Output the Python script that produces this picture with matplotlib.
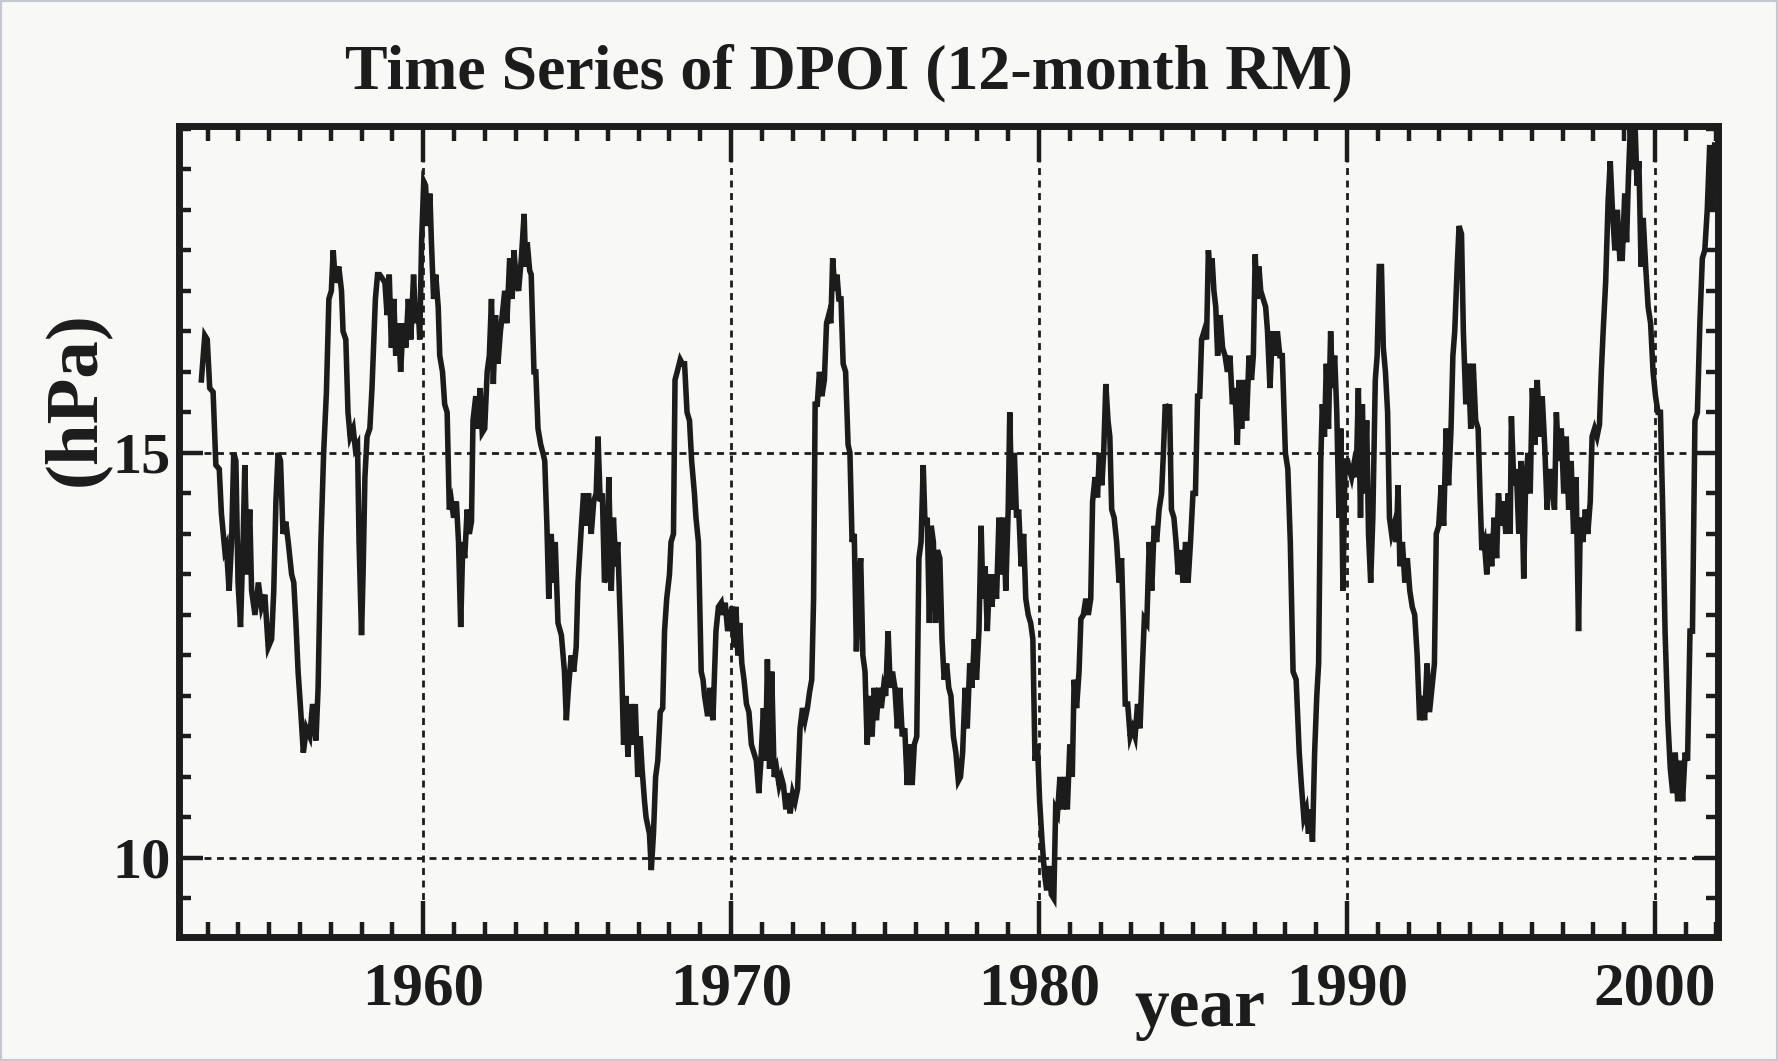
import matplotlib
matplotlib.use("Agg")
import matplotlib.pyplot as plt
from matplotlib.ticker import MultipleLocator, FixedLocator
from matplotlib.patches import Rectangle

# ---------------- data ----------------
yr_1950s = [1952.80, 1952.91, 1952.99, 1953.07, 1953.18, 1953.27, 1953.38, 1953.45, 1953.56, 1953.61,
            1953.70, 1953.78, 1953.85, 1953.92, 1953.99, 1954.07, 1954.16, 1954.21, 1954.29, 1954.37,
            1954.43, 1954.54, 1954.65, 1954.75, 1954.86, 1954.97, 1955.08, 1955.15, 1955.22, 1955.29,
            1955.37, 1955.45, 1955.54, 1955.62, 1955.73, 1955.80, 1955.87, 1955.94, 1956.02, 1956.11,
            1956.21, 1956.32, 1956.41, 1956.52, 1956.59, 1956.68, 1956.77, 1956.86, 1956.94, 1957.02,
            1957.08, 1957.15, 1957.26, 1957.35, 1957.40, 1957.49, 1957.56, 1957.63, 1957.73, 1957.80,
            1957.87, 1957.92, 1958.00, 1958.05, 1958.11, 1958.18, 1958.27, 1958.34, 1958.45, 1958.52,
            1958.59, 1958.68, 1958.76, 1958.83, 1958.90, 1958.97, 1959.05, 1959.11, 1959.20, 1959.27,
            1959.35, 1959.44, 1959.52, 1959.60, 1959.69, 1959.76, 1959.84, 1959.89, 1959.95]
val_1950s = [15.9, 16.45, 16.4, 15.8, 15.75, 14.85, 14.8, 14.25, 13.8, 13.85,
             13.3, 13.9, 15.0, 14.9, 13.4, 12.85, 14.0, 14.85, 13.5, 14.3,
             13.3, 13.0, 13.4, 13.1, 13.25, 12.6, 12.7, 13.3, 14.4, 15.0,
             14.9, 14.0, 14.15, 13.9, 13.5, 13.4, 12.9, 12.3, 11.85, 11.3,
             11.6, 11.5, 11.9, 11.45, 12.1, 13.9, 15.0, 15.75, 16.9, 17.0,
             17.5, 17.1, 17.3, 17.0, 16.5, 16.4, 15.5, 15.2, 15.3, 15.05,
             15.1, 13.9, 12.75, 13.5, 14.7, 15.2, 15.3, 15.8, 16.9, 17.2,
             17.2, 17.15, 17.1, 16.7, 17.2, 16.3, 16.9, 16.2, 16.6, 16.0,
             16.6, 16.3, 16.9, 16.4, 17.2, 16.6, 16.8, 16.4, 17.6]

yr_1960s = [1960.02, 1960.08, 1960.14, 1960.22, 1960.27, 1960.34, 1960.41, 1960.49, 1960.54, 1960.63,
            1960.70, 1960.78, 1960.85, 1960.92, 1960.99, 1961.08, 1961.15, 1961.22, 1961.29, 1961.35,
            1961.43, 1961.50, 1961.57, 1961.62, 1961.71, 1961.78, 1961.85, 1961.92, 1962.00, 1962.08,
            1962.15, 1962.22, 1962.28, 1962.35, 1962.43, 1962.51, 1962.57, 1962.65, 1962.72, 1962.81,
            1962.89, 1962.95, 1963.03, 1963.10, 1963.19, 1963.28, 1963.33, 1963.38, 1963.46, 1963.51,
            1963.60, 1963.66, 1963.73, 1963.82, 1963.89, 1963.95, 1964.02, 1964.08, 1964.16, 1964.22,
            1964.29, 1964.38, 1964.49, 1964.59, 1964.65, 1964.72, 1964.81, 1964.89, 1964.97, 1965.03,
            1965.14, 1965.21, 1965.30, 1965.37, 1965.46, 1965.54, 1965.62, 1965.68, 1965.75, 1965.82,
            1965.89, 1965.97, 1966.03, 1966.11, 1966.18, 1966.26, 1966.32, 1966.43, 1966.51, 1966.58,
            1966.65, 1966.74, 1966.81, 1966.89, 1966.97, 1967.05, 1967.11, 1967.19, 1967.24, 1967.35,
            1967.41, 1967.48, 1967.55, 1967.62, 1967.70, 1967.78, 1967.84, 1967.91, 1968.00, 1968.05,
            1968.13, 1968.18, 1968.25, 1968.35, 1968.42, 1968.49, 1968.57, 1968.65, 1968.72, 1968.81,
            1968.86, 1968.94, 1969.03, 1969.09, 1969.14, 1969.24, 1969.32, 1969.41, 1969.51, 1969.59,
            1969.68, 1969.73, 1969.81, 1969.89, 1969.97]
val_1960s = [18.35, 18.3, 17.8, 18.2, 17.6, 16.9, 17.2, 16.8, 16.2, 16.0,
             15.6, 15.5, 14.3, 14.4, 14.2, 14.4, 13.9, 12.85, 13.9, 13.7,
             14.3, 14.0, 14.15, 15.4, 15.7, 15.3, 15.8, 15.25, 15.3, 16.0,
             16.2, 16.9, 15.85, 16.7, 16.1, 16.5, 16.7, 17.0, 16.6, 17.4,
             16.9, 17.5, 17.1, 17.0, 17.4, 17.95, 17.3, 17.6, 17.25, 17.2,
             16.0, 16.0, 15.3, 15.1, 15.0, 14.9, 14.1, 13.2, 14.0, 13.4,
             13.9, 12.9, 12.75, 12.3, 11.7, 12.1, 12.5, 12.3, 12.6, 13.4,
             14.1, 14.5, 14.1, 14.5, 14.0, 14.4, 14.5, 15.2, 14.4, 14.5,
             13.4, 13.5, 14.7, 13.3, 14.2, 13.6, 13.9, 12.6, 11.4, 12.0,
             11.25, 11.9, 11.4, 11.9, 11.0, 11.5, 11.1, 10.7, 10.5, 10.3,
             9.85, 10.3, 11.0, 11.2, 11.8, 11.85, 12.8, 13.2, 13.5, 13.9,
             14.0, 15.9, 16.0, 16.15, 16.1, 16.1, 15.5, 15.4, 14.9, 14.5,
             14.2, 13.9, 12.3, 12.2, 12.0, 11.75, 12.1, 11.7, 12.8, 13.1,
             13.15, 13.0, 13.15, 12.8, 13.0]

yr_1970s = [1970.04, 1970.10, 1970.16, 1970.22, 1970.28, 1970.35, 1970.42, 1970.50, 1970.58, 1970.66,
            1970.74, 1970.82, 1970.90, 1970.97, 1971.05, 1971.12, 1971.18, 1971.25, 1971.32, 1971.40,
            1971.48, 1971.56, 1971.63, 1971.70, 1971.78, 1971.85, 1971.92, 1972.00, 1972.08, 1972.16,
            1972.24, 1972.32, 1972.40, 1972.48, 1972.55, 1972.62, 1972.68, 1972.73, 1972.80, 1972.87,
            1972.95, 1973.03, 1973.10, 1973.17, 1973.24, 1973.30, 1973.37, 1973.44, 1973.50, 1973.57,
            1973.64, 1973.72, 1973.80, 1973.86, 1973.93, 1974.00, 1974.07, 1974.14, 1974.21, 1974.28,
            1974.35, 1974.42, 1974.50, 1974.58, 1974.65, 1974.72, 1974.80, 1974.88, 1974.95, 1975.02,
            1975.10, 1975.17, 1975.24, 1975.32, 1975.40, 1975.48, 1975.56, 1975.64, 1975.72, 1975.80,
            1975.88, 1975.95, 1976.03, 1976.10, 1976.17, 1976.24, 1976.30, 1976.37, 1976.44, 1976.50,
            1976.57, 1976.64, 1976.70, 1976.78, 1976.85, 1976.92, 1977.00, 1977.07, 1977.14, 1977.22,
            1977.30, 1977.38, 1977.45, 1977.52, 1977.60, 1977.67, 1977.75, 1977.82, 1977.90, 1977.97,
            1978.05, 1978.12, 1978.18, 1978.25, 1978.32, 1978.40, 1978.47, 1978.55, 1978.62, 1978.70,
            1978.77, 1978.85, 1978.92, 1979.00, 1979.05, 1979.12, 1979.20, 1979.27, 1979.34, 1979.42,
            1979.50, 1979.57, 1979.65, 1979.73, 1979.80, 1979.87, 1979.95]
val_1970s = [13.1, 12.6, 13.1, 12.5, 12.9, 12.4, 12.2, 11.9, 11.8, 11.4,
             11.3, 11.2, 10.8, 11.2, 11.85, 11.2, 12.45, 11.1, 12.3, 11.0,
             11.1, 10.9, 11.0, 10.9, 10.6, 10.8, 10.55, 10.8, 10.7, 10.85,
             11.6, 11.85, 11.7, 11.85, 12.05, 12.2, 13.2, 15.6, 15.6, 16.0,
             15.7, 15.9, 16.6, 16.7, 16.6, 17.4, 17.0, 17.2, 16.9, 16.9,
             16.1, 16.0, 15.1, 15.0, 13.9, 14.0, 12.55, 13.4, 13.7, 12.5,
             12.3, 11.4, 12.0, 11.5, 12.1, 11.7, 12.1, 11.85, 12.1, 12.0,
             12.8, 12.1, 12.3, 12.1, 11.6, 12.1, 11.5, 11.6, 10.9, 11.4,
             10.9, 11.4, 11.5, 13.7, 13.9, 14.85, 14.1, 14.2, 12.9, 14.1,
             13.9, 12.9, 13.8, 13.7, 12.7, 12.2, 12.4, 12.1, 12.0, 11.5,
             11.3, 10.95, 11.0, 11.3, 12.1, 11.6, 12.4, 12.1, 12.7, 12.2,
             12.8, 14.1, 13.2, 13.6, 12.8, 13.5, 13.1, 13.5, 13.2, 14.2,
             13.5, 14.2, 13.3, 14.3, 15.5, 14.3, 15.0, 14.2, 14.3, 13.6,
             14.0, 13.2, 13.0, 12.9, 12.7, 11.2, 11.4]

yr_1980s = [1980.02, 1980.10, 1980.18, 1980.25, 1980.32, 1980.40, 1980.48, 1980.54, 1980.60, 1980.68,
            1980.76, 1980.84, 1980.92, 1981.00, 1981.08, 1981.14, 1981.22, 1981.30, 1981.36, 1981.44,
            1981.52, 1981.60, 1981.68, 1981.74, 1981.82, 1981.90, 1981.96, 1982.04, 1982.10, 1982.17,
            1982.24, 1982.30, 1982.36, 1982.44, 1982.52, 1982.60, 1982.68, 1982.74, 1982.80, 1982.88,
            1982.96, 1983.04, 1983.12, 1983.20, 1983.28, 1983.34, 1983.42, 1983.50, 1983.58, 1983.66,
            1983.74, 1983.82, 1983.90, 1983.98, 1984.04, 1984.10, 1984.17, 1984.24, 1984.30, 1984.38,
            1984.45, 1984.52, 1984.60, 1984.68, 1984.76, 1984.84, 1984.92, 1985.00, 1985.08, 1985.15,
            1985.22, 1985.28, 1985.36, 1985.44, 1985.50, 1985.56, 1985.62, 1985.68, 1985.74, 1985.80,
            1985.88, 1985.96, 1986.04, 1986.12, 1986.20, 1986.28, 1986.36, 1986.44, 1986.50, 1986.58,
            1986.66, 1986.74, 1986.82, 1986.90, 1986.96, 1987.02, 1987.08, 1987.14, 1987.20, 1987.28,
            1987.36, 1987.42, 1987.50, 1987.58, 1987.66, 1987.74, 1987.82, 1987.90, 1988.00, 1988.08,
            1988.16, 1988.25, 1988.35, 1988.45, 1988.52, 1988.60, 1988.68, 1988.75, 1988.82, 1988.88,
            1988.95, 1989.02, 1989.08, 1989.15, 1989.20, 1989.27, 1989.33, 1989.40, 1989.47, 1989.53,
            1989.60, 1989.67, 1989.74, 1989.80, 1989.87, 1989.94]
val_1980s = [10.7, 10.2, 9.8, 9.6, 9.9, 9.55, 9.5, 10.6, 10.55, 11.0,
             10.6, 11.0, 10.6, 11.4, 11.0, 12.2, 11.85, 12.3, 12.95, 13.0,
             13.2, 13.0, 13.2, 14.4, 14.7, 14.45, 15.0, 14.6, 15.0, 15.85,
             15.4, 15.2, 14.3, 14.2, 13.9, 13.4, 13.7, 12.9, 11.9, 11.9,
             11.5, 11.6, 11.5, 11.9, 11.6, 12.2, 12.95, 12.9, 13.9, 13.3,
             14.1, 13.9, 14.3, 14.5, 15.0, 15.6, 15.5, 15.6, 14.3, 14.2,
             13.9, 13.5, 13.8, 13.4, 13.9, 13.4, 13.9, 14.5, 14.5, 15.7,
             15.7, 16.4, 16.5, 16.4, 17.5, 17.2, 17.4, 17.0, 16.8, 16.2,
             16.7, 16.3, 16.2, 16.0, 16.2, 15.6, 15.8, 15.1, 15.9, 15.3,
             15.9, 15.4, 16.2, 15.9, 16.2, 17.45, 16.9, 17.3, 17.0, 16.9,
             16.8, 16.5, 15.8, 16.5, 16.2, 16.5, 16.2, 16.2, 15.0, 14.8,
             13.9, 12.3, 12.2, 11.3, 10.9, 10.5, 10.6, 10.3, 10.6, 10.2,
             11.3, 12.0, 12.4, 14.9, 15.6, 15.2, 16.1, 15.3, 16.5, 15.8,
             16.2, 15.5, 14.2, 15.3, 13.3, 14.9]

yr_1990s = [1990.02, 1990.08, 1990.15, 1990.22, 1990.30, 1990.37, 1990.44, 1990.50, 1990.57, 1990.64,
            1990.70, 1990.77, 1990.84, 1990.92, 1990.98, 1991.05, 1991.12, 1991.18, 1991.25, 1991.32,
            1991.38, 1991.45, 1991.52, 1991.60, 1991.66, 1991.72, 1991.80, 1991.88, 1991.96, 1992.04,
            1992.12, 1992.20, 1992.28, 1992.36, 1992.44, 1992.52, 1992.60, 1992.68, 1992.76, 1992.84,
            1992.90, 1992.98, 1993.06, 1993.14, 1993.22, 1993.30, 1993.38, 1993.44, 1993.50, 1993.58,
            1993.64, 1993.72, 1993.78, 1993.86, 1993.94, 1994.02, 1994.10, 1994.18, 1994.26, 1994.32,
            1994.38, 1994.46, 1994.54, 1994.62, 1994.70, 1994.78, 1994.86, 1994.92, 1995.00, 1995.08,
            1995.16, 1995.24, 1995.30, 1995.34, 1995.42, 1995.50, 1995.58, 1995.66, 1995.74, 1995.80,
            1995.88, 1995.95, 1996.02, 1996.10, 1996.18, 1996.26, 1996.34, 1996.42, 1996.50, 1996.58,
            1996.66, 1996.74, 1996.80, 1996.88, 1996.96, 1997.04, 1997.12, 1997.20, 1997.28, 1997.36,
            1997.44, 1997.52, 1997.58, 1997.66, 1997.74, 1997.82, 1997.90, 1997.96, 1998.04, 1998.12,
            1998.20, 1998.26, 1998.32, 1998.40, 1998.48, 1998.55, 1998.62, 1998.70, 1998.78, 1998.86,
            1998.94, 1999.02, 1999.08, 1999.14, 1999.20, 1999.28, 1999.36, 1999.42, 1999.48, 1999.55,
            1999.62, 1999.70, 1999.78, 1999.86, 1999.94]
val_1990s = [14.9, 14.8, 14.7, 14.85, 14.7, 15.8, 14.2, 15.6, 14.5, 15.4,
             14.0, 13.4, 14.2, 15.9, 16.2, 17.3, 17.3, 16.3, 16.0, 15.5,
             14.2, 14.0, 14.1, 13.9, 14.6, 13.6, 13.9, 13.4, 13.7, 13.3,
             13.1, 13.0, 12.5, 11.7, 12.0, 11.7, 12.4, 11.8, 12.1, 12.4,
             14.0, 14.1, 14.6, 14.1, 15.3, 14.6, 15.3, 16.2, 16.5, 17.3,
             17.8, 17.7, 16.5, 15.6, 16.1, 15.3, 16.1, 15.4, 15.3, 14.5,
             13.8, 13.9, 13.5, 14.0, 13.6, 14.2, 13.7, 14.5, 14.1, 14.4,
             14.0, 14.5, 14.0, 15.45, 14.6, 14.8, 14.0, 14.9, 13.45, 14.6,
             15.0, 14.5, 15.8, 15.1, 15.9, 15.2, 15.7, 15.1, 14.3, 14.8,
             14.6, 14.3, 15.5, 14.9, 15.3, 14.5, 15.2, 14.3, 14.9, 14.0,
             14.7, 12.8, 14.2, 13.9, 14.3, 14.0, 14.4, 15.2, 15.3, 15.2,
             15.35, 16.0, 16.5, 17.1, 18.1, 18.6, 18.0, 17.5, 18.0, 17.4,
             17.4, 18.2, 17.6, 18.4, 19.0, 18.5, 19.0, 18.3, 18.6, 17.3,
             17.9, 17.3, 16.8, 16.6, 16.0]

yr_2000s = [2000.02, 2000.10, 2000.18, 2000.26, 2000.33, 2000.42, 2000.50, 2000.58, 2000.66, 2000.74,
            2000.82, 2000.90, 2000.98, 2001.06, 2001.14, 2001.22, 2001.30, 2001.38, 2001.46, 2001.54,
            2001.62, 2001.70, 2001.78, 2001.86, 2001.94]
val_2000s = [15.7, 15.5, 15.5, 14.2, 12.8, 11.7, 11.1, 10.8, 11.3, 10.7,
             11.2, 10.7, 11.3, 11.2, 12.8, 12.8, 15.4, 15.5, 16.6, 17.4,
             17.5, 18.0, 18.8, 18.0, 18.8]

title = "Time Series of DPOI (12-month RM)"
x_label = "year"
y_label = "(hPa)"
x_major = [1960, 1970, 1980, 1990, 2000]
y_major = [10, 15]

years = yr_1950s + yr_1960s + yr_1970s + yr_1980s + yr_1990s + yr_2000s
dpoi = val_1950s + val_1960s + val_1970s + val_1980s + val_1990s + val_2000s

# ---------------- figure ----------------
plt.rcParams['font.family'] = ['Liberation Serif', 'DejaVu Serif']
plt.rcParams['font.weight'] = 'bold'

ink = '#1c1c1c'
bg = '#f8f9f7'

fig = plt.figure(figsize=(17.78, 10.61), dpi=100)
fig.patch.set_facecolor(bg)
fig.patches.append(Rectangle((0, 0), 1, 1, transform=fig.transFigure, fill=False,
                             edgecolor='#c3c8d2', lw=3, zorder=10))

ax = fig.add_axes([0.1008, 0.1173, 0.8653, 0.7636])
ax.set_facecolor(bg)

ax.plot(years, dpoi, color=ink, lw=4.0, solid_joinstyle='miter', zorder=3)

ax.set_xlim(1952.08, 2002.04)
ax.set_ylim(9.03, 19.03)

ax.xaxis.set_major_locator(FixedLocator(x_major))
ax.xaxis.set_minor_locator(MultipleLocator(1))
ax.yaxis.set_major_locator(FixedLocator(y_major))
ax.yaxis.set_minor_locator(MultipleLocator(0.5))

for sp in ax.spines.values():
    sp.set_linewidth(5)
    sp.set_color(ink)

ax.tick_params(which='both', direction='in', top=True, right=True, color=ink)
ax.tick_params(axis='x', which='major', length=26, width=3.2, labelsize=44, pad=18)
ax.tick_params(axis='x', which='minor', length=11, width=3.2)
ax.tick_params(axis='y', which='major', length=17, width=3.2, labelsize=42, pad=6)
ax.tick_params(axis='y', which='minor', length=8.5, width=3.2)

for lab in ax.get_xticklabels() + ax.get_yticklabels():
    lab.set_fontweight('bold')
    lab.set_color(ink)

ax.grid(True, which='major', color=ink, lw=2.0, linestyle=(0, (2.5, 2.0)))

fig.text(0.4777, 0.917, title, ha='center', va='baseline', fontsize=46,
         fontweight='bold', color=ink)
fig.text(0.0427, 0.624, y_label, rotation=90, ha='center', va='center',
         fontsize=54, fontweight='bold', color=ink)
fig.text(0.675, 0.033, x_label, ha='center', va='baseline', fontsize=50,
         fontweight='bold', color=ink)

fig.savefig('out.png', dpi=100, facecolor=fig.get_facecolor())
